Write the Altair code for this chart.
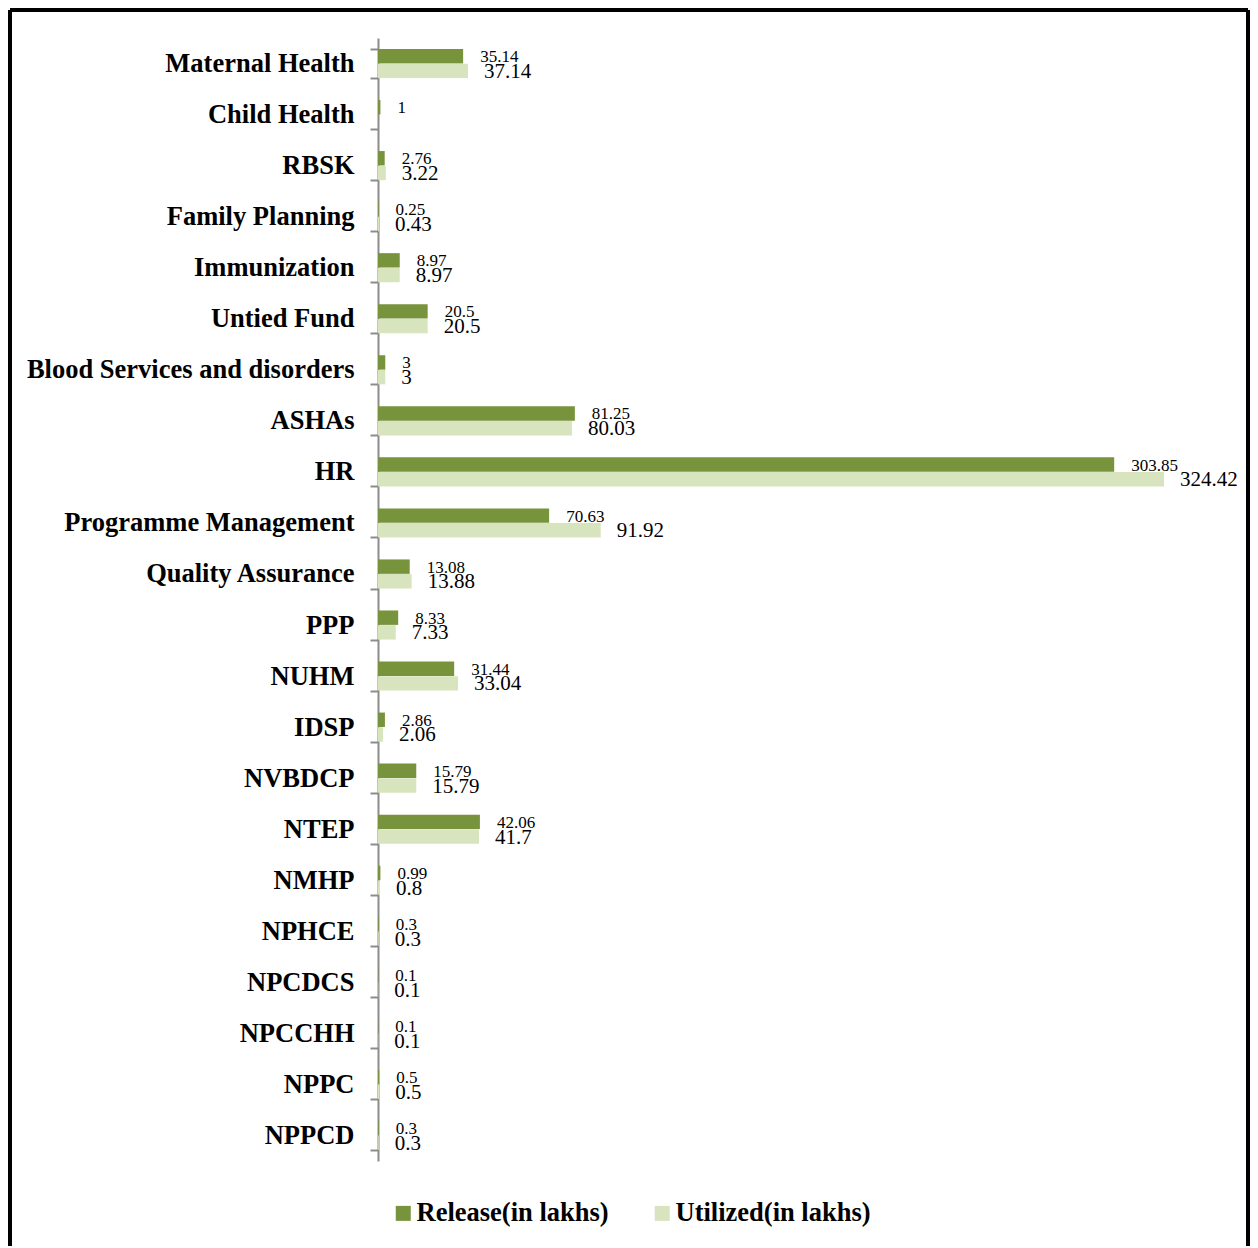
import altair as alt
import pandas as pd

categories = ["Maternal Health", "Child Health", "RBSK", "Family Planning", "Immunization",
              "Untied Fund", "Blood Services and disorders", "ASHAs", "HR",
              "Programme Management", "Quality Assurance", "PPP", "NUHM", "IDSP",
              "NVBDCP", "NTEP", "NMHP", "NPHCE", "NPCDCS", "NPCCHH", "NPPC", "NPPCD"]
release = [35.14, 1, 2.76, 0.25, 8.97, 20.5, 3, 81.25, 303.85, 70.63, 13.08, 8.33,
           31.44, 2.86, 15.79, 42.06, 0.99, 0.3, 0.1, 0.1, 0.5, 0.3]
utilized = [37.14, None, 3.22, 0.43, 8.97, 20.5, 3, 80.03, 324.42, 91.92, 13.88, 7.33,
            33.04, 2.06, 15.79, 41.7, 0.8, 0.3, 0.1, 0.1, 0.5, 0.3]
series = ["Release(in lakhs)", "Utilized(in lakhs)"]
colors = ["#77933C", "#D7E4BD"]

rows = []
for c, r, u in zip(categories, release, utilized):
    rows.append({"cat": c, "series": series[0], "value": r, "label": f"{r:g}"})
    if u is not None:
        rows.append({"cat": c, "series": series[1], "value": u, "label": f"{u:g}"})
df = pd.DataFrame(rows)

FONT = "Liberation Serif"

y_enc = alt.Y("cat:N", sort=categories, title=None,
              scale=alt.Scale(paddingInner=0.43, paddingOuter=0.215),
              axis=alt.Axis(labelFont=FONT, labelFontSize=26.5, labelLimit=500,
                            labelFontWeight="bold", labelColor="black", labelPadding=16,
                            tickSize=8, tickColor="#8c8c8c", domainColor="#8c8c8c",
                            domainWidth=2, tickWidth=2, tickBand="extent", grid=False))
x_enc = alt.X("value:Q", title=None, axis=None, scale=alt.Scale(domain=[0, 350]))
yoff = alt.YOffset("series:N", scale=alt.Scale(domain=series, paddingInner=0.02))

bars = alt.Chart(df).mark_bar().encode(
    y=y_enc, x=x_enc, yOffset=yoff,
    color=alt.Color("series:N", scale=alt.Scale(domain=series, range=colors),
                    legend=alt.Legend(orient="none", legendX=12, legendY=1162,
                                      direction="horizontal", title=None,
                                      symbolType="square", symbolSize=225,
                                      symbolStrokeWidth=0, labelFont=FONT,
                                      labelFontSize=26.5, labelFontWeight="bold",
                                      labelColor="black", columnPadding=40,
                                      labelOffset=0, labelLimit=400))
)

txt_rel = alt.Chart(df).transform_filter(alt.datum.series == series[0]).mark_text(
    align="left", baseline="middle", dx=17, dy=1, fontSize=17, font=FONT, color="black"
).encode(y=y_enc, x=x_enc, yOffset=yoff, text="label:N")

txt_uti = alt.Chart(df).transform_filter(alt.datum.series == series[1]).mark_text(
    align="left", baseline="middle", dx=16, dy=1, fontSize=21, font=FONT, color="black"
).encode(y=y_enc, x=x_enc, yOffset=yoff, text="label:N")

one = pd.DataFrame({"f": [0]})
frame_style = dict(stroke="black", strokeWidth=4)
frame_top = alt.Chart(one).mark_rule(**frame_style).encode(
    x=alt.value(-368), x2=alt.value(870), y=alt.value(-28))
frame_left = alt.Chart(one).mark_rule(**frame_style).encode(
    x=alt.value(-368), y=alt.value(-28), y2=alt.value(1208))
frame_right = alt.Chart(one).mark_rule(**frame_style).encode(
    x=alt.value(870), y=alt.value(-28), y2=alt.value(1208))

chart = alt.layer(bars, txt_rel, txt_uti, frame_top, frame_left, frame_right).properties(
    width=848, height=1123, padding=0, background="white"
).configure_view(stroke=None)

chart.save("out.html", embed_options={"renderer": "svg", "actions": False})
